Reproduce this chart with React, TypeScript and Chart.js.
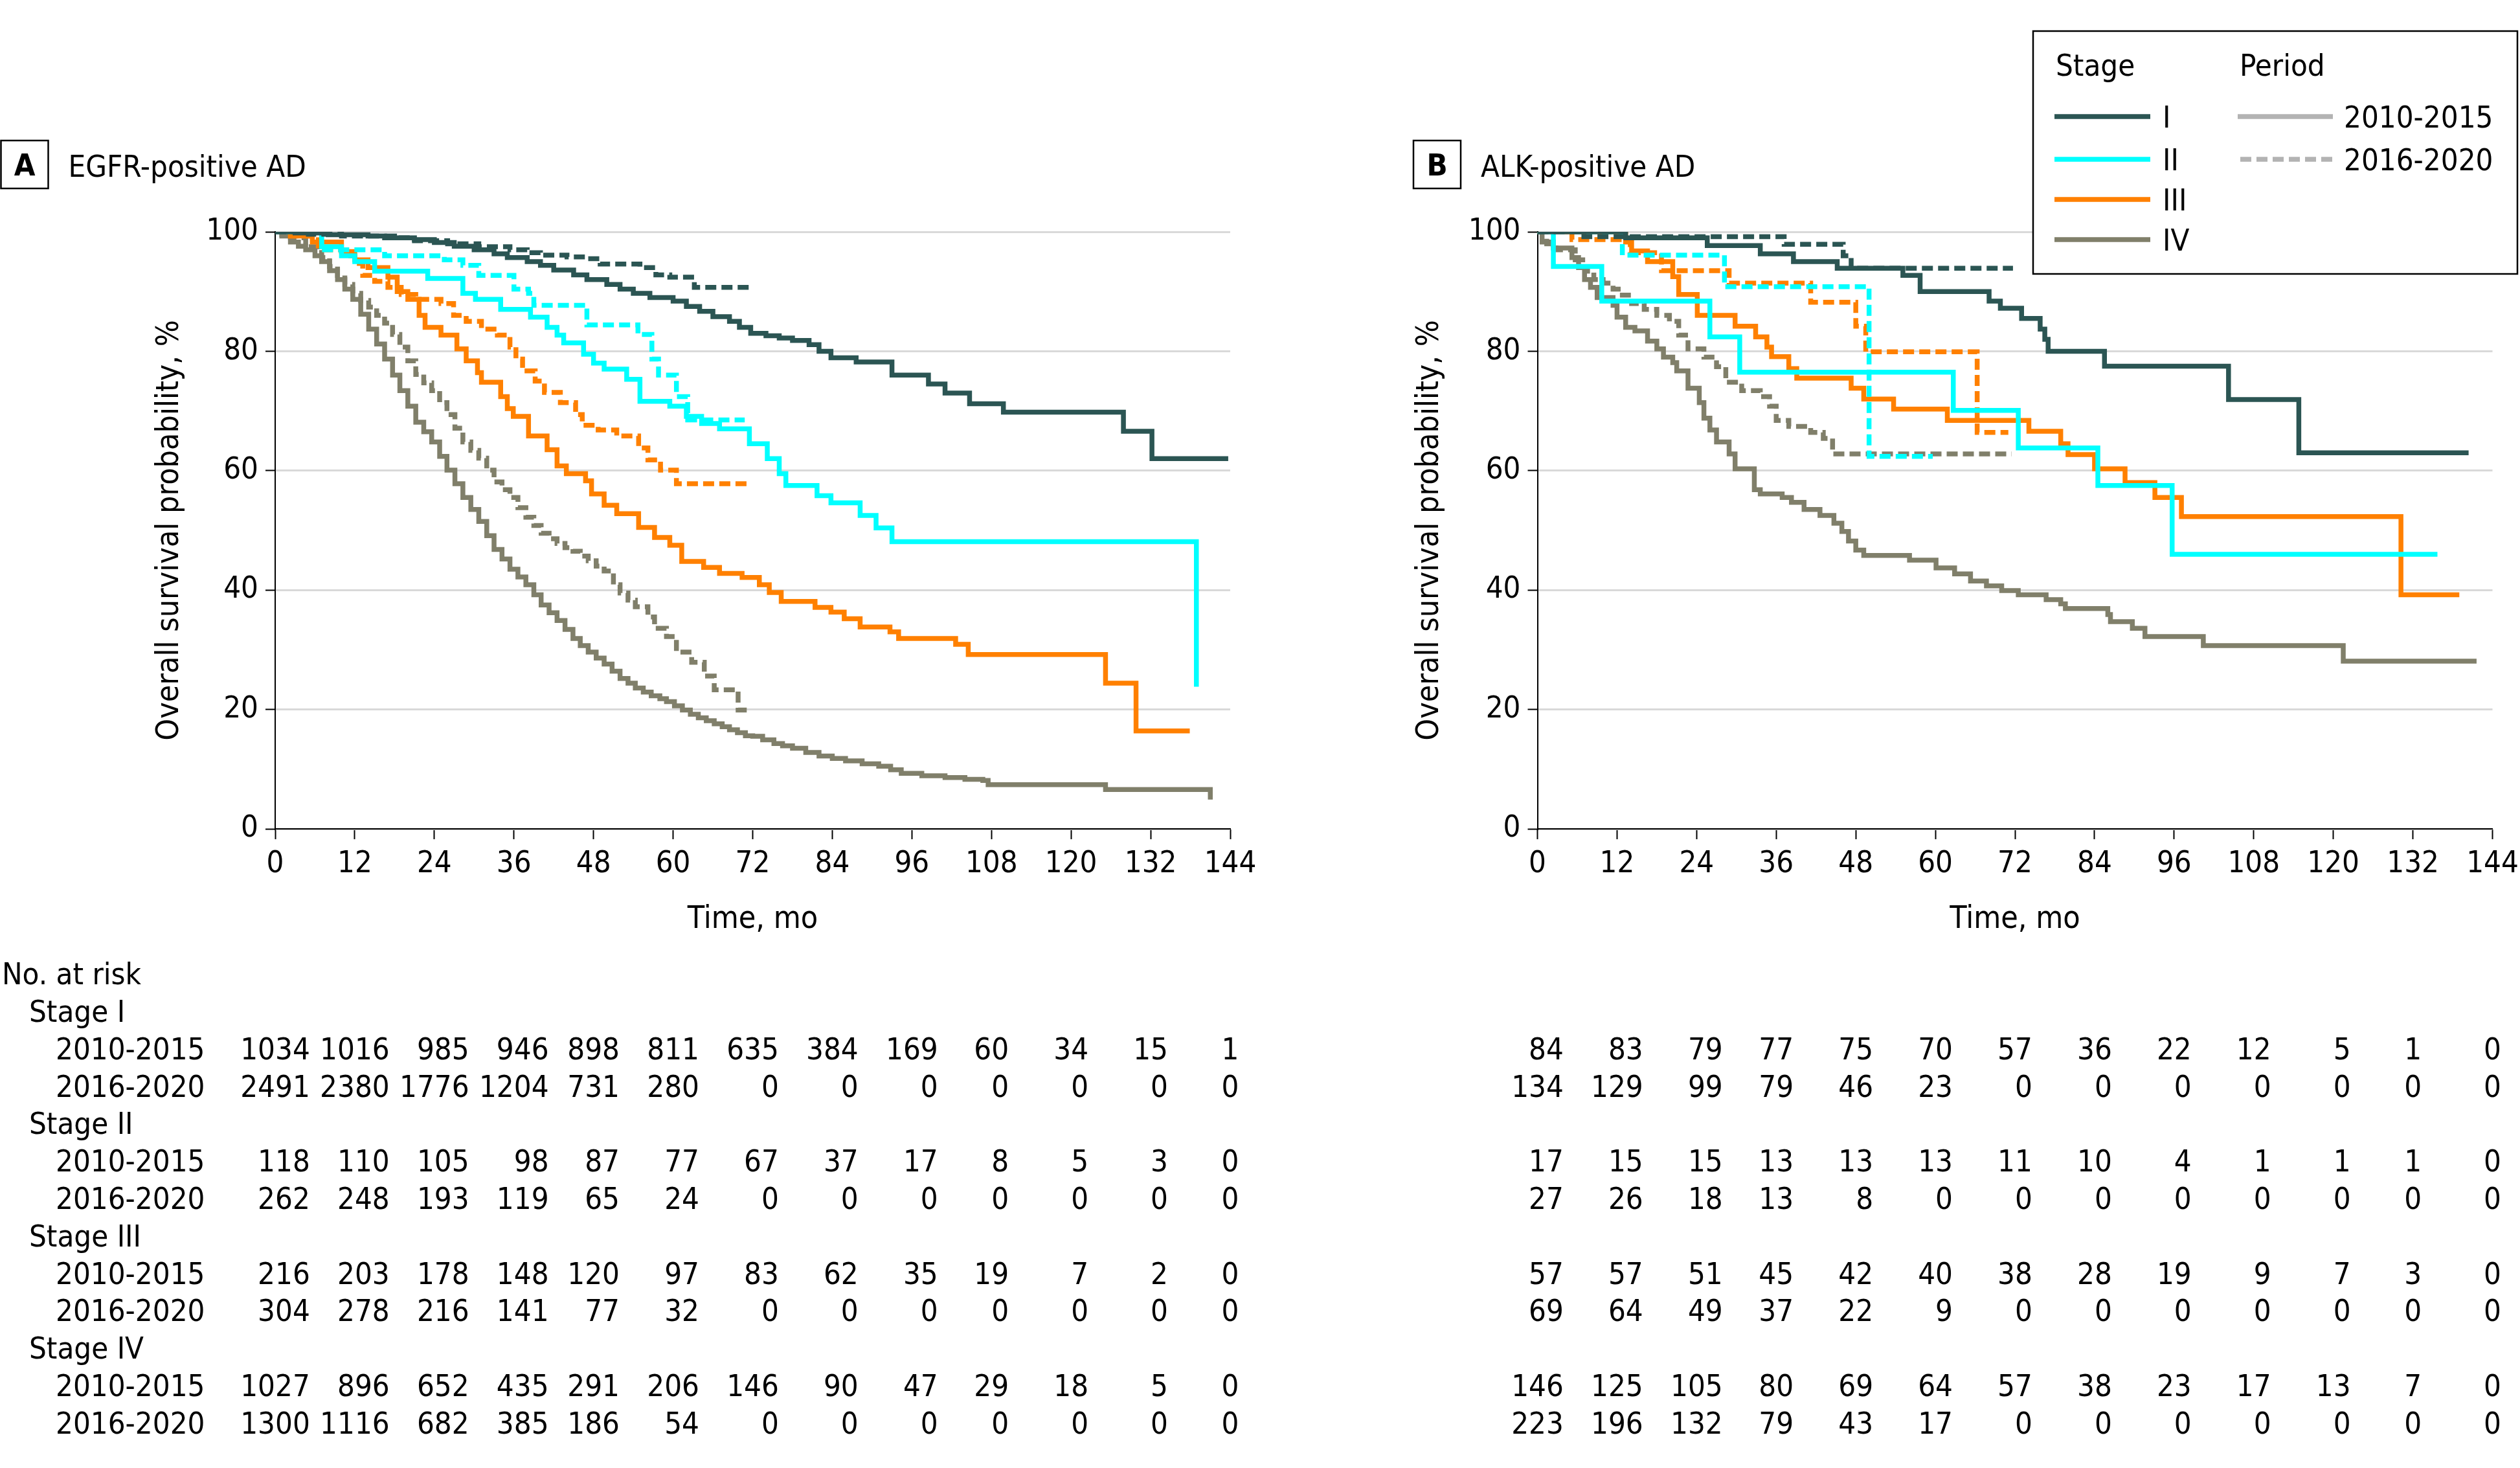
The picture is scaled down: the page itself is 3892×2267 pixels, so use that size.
import React, { useEffect, useRef } from "react";
import { Chart, registerables } from "chart.js";

Chart.register(...registerables);

const FONT = '"DejaVu Sans Condensed", "Liberation Sans Narrow", "Arial Narrow", sans-serif';

// ---------- data ----------
const MONTH_TICKS = [0, 12, 24, 36, 48, 60, 72, 84, 96, 108, 120, 132, 144];
const STAGES = ["I", "II", "III", "IV"];
const PERIODS = ["2010-2015", "2016-2020"];
const STAGE_COLORS = ["#2B5553", "#00FFFF", "#FF8000", "#807F6A"];
const PERIOD_COLOR = "#B3B3B3";
const Y_TITLE = "Overall survival probability, %";
const X_TITLE = "Time, mo";

type Pts = [number, number][];

// Panel A: EGFR-positive AD (month, survival %)
const A_I_2010: Pts = [[0,100],[3,99.8],[8,99.5],[14,99.3],[18,99],[21,98.7],[24,98.2],[27,97.6],[30,97],[33,96.3],[35,95.7],[38,95],[40,94.4],[42,93.6],[45,92.8],[47,92],[50,91.2],[52,90.4],[54,89.7],[56.5,89],[60,88.4],[62,87.5],[64,86.7],[66,85.8],[68.5,85],[70,84],[71.7,83],[74,82.6],[76,82.2],[78,81.8],[80.5,81.1],[82,80],[83.8,78.9],[87.6,78.2],[93,76],[98.5,74.5],[101,73],[104.7,71.2],[109.8,69.8],[127.9,66.6],[132.2,62],[143.7,62]];
const A_I_2016: Pts = [[0,100],[5,99.6],[10,99.3],[16.5,99],[21,98.5],[26,98],[30.7,97.5],[35.4,97],[38,96.5],[40,96.1],[44,95.8],[47,95.5],[49,94.6],[55,94],[57.4,92.8],[59.5,92.4],[63.2,90.7],[71.5,90.7]];
const A_II_2010: Pts = [[0,100],[7,97.5],[10,96],[12,95],[15,93.4],[23,92.2],[28.3,89.7],[30.2,88.7],[34,87],[38.5,85.7],[41,84],[42.5,82.7],[43.5,81.4],[46.5,79.5],[48,78],[49.6,77],[53,75.3],[55,71.6],[59.5,70.8],[62,69.1],[64.3,67.9],[67,67],[71.5,64.5],[74.2,62],[76,59.5],[77,57.5],[81.7,55.8],[83.8,54.6],[88.2,52.5],[90.6,50.4],[93,48.1],[138.9,23.8]];
const A_II_2016: Pts = [[0,100],[7,97],[16.5,96],[25.5,95.3],[28.3,94.4],[30.7,92.7],[36,90.4],[38.2,89.7],[39,87.7],[47,84.4],[54.7,82.8],[56.8,78.7],[57.8,76],[60.5,72.4],[62.2,68.5],[70.8,68.5]];
const A_III_2010: Pts = [[0,100],[2.3,99.3],[5.6,98.3],[10,96.7],[12,95.3],[14,94],[17,92.4],[18.4,90],[20,88.7],[21.7,86],[22.6,84],[25,82.7],[27.4,80.4],[28.8,78.4],[30.5,76.4],[31.1,74.8],[34,72.4],[35,70.4],[35.9,69.1],[38.2,65.8],[41,63.5],[42.5,60.8],[43.9,59.5],[46.8,58.3],[47.7,56.1],[49.6,54.2],[51.5,52.8],[54.8,50.5],[57.2,48.8],[59.5,47.5],[61.3,44.8],[64.6,43.8],[67,42.8],[70.4,42.1],[73,40.9],[74.5,39.6],[76.3,38.1],[81.4,37.1],[83.8,36.3],[85.8,35.2],[88.2,33.8],[92.7,33],[94,31.9],[102.6,30.9],[104.5,29.2],[125.2,24.4],[129.8,16.4],[137.9,16.4]];
const A_III_2016: Pts = [[0,100],[2.3,99.3],[6.5,97],[10.3,96],[12,94.7],[13.2,92.7],[15,91.7],[17,90.7],[19,89.5],[21.2,88.7],[25,88],[26.9,86],[28.8,85],[31.1,83.7],[33.5,82.7],[35.4,80.7],[36.3,78.7],[37.3,76.7],[39.2,75],[40.6,73.1],[43,71.4],[45.3,69.4],[46.3,67.6],[48.7,66.8],[51.5,65.8],[54.8,63.8],[56.2,61.8],[58.1,60.1],[60.5,57.8],[71.7,57.8]];
const A_IV_2010: Pts = [[0,100],[1,99.3],[2.3,98.3],[3.5,97.6],[4.6,97],[6,96],[7,95],[8.2,93.5],[9.4,92],[10.5,90.4],[11.7,88.7],[12.9,86.2],[14.1,83.7],[15.3,81.2],[16.5,78.7],[17.7,76],[18.8,73.4],[20,70.8],[21.2,68.1],[22.4,66.5],[23.6,64.8],[24.8,62.4],[25.9,60.1],[27.1,57.8],[28.3,55.5],[29.5,53.5],[30.7,51.5],[31.9,49.1],[33,46.8],[34.2,45.2],[35.4,43.5],[36.6,42.2],[37.8,40.9],[39,39.2],[40.1,37.5],[41.3,36.2],[42.5,34.9],[43.7,33.4],[44.9,31.9],[46,30.7],[47.2,29.6],[48.4,28.6],[49.6,27.6],[50.8,26.4],[52,25.2],[53.2,24.4],[54.3,23.6],[55.5,22.9],[56.7,22.3],[58,21.8],[59,21.3],[60.2,20.6],[61.4,19.9],[62.6,19.2],[63.8,18.6],[65,18.1],[66.2,17.6],[67.4,17.1],[68.5,16.6],[69.7,16.1],[70.9,15.6],[72,15.5],[73.5,14.9],[75.2,14.3],[76.5,13.9],[78,13.5],[80,12.8],[82,12.2],[84,11.8],[86,11.4],[88.5,10.9],[91,10.5],[92.8,9.9],[94.4,9.3],[97.5,8.9],[101,8.6],[104,8.3],[106.7,8.1],[107.5,7.4],[125.2,6.6],[141,4.9]];
const A_IV_2016: Pts = [[0,100],[1,99.5],[2.3,99],[4.6,97.5],[7,95.7],[8.2,94.2],[9.4,92.7],[10.5,91.2],[11.7,89.7],[12.9,88.5],[14.1,87.4],[15.3,86],[16.5,84.7],[17.7,82.8],[18.8,80.7],[20,78.4],[21.2,76.1],[22.4,74.7],[23.6,73.4],[24.8,71.4],[25.9,69.4],[27.1,67.1],[28.3,64.8],[29.5,63.4],[30.7,62.1],[31.9,60.1],[33,58.1],[34.2,56.8],[35.4,55.5],[36.6,53.8],[37.8,52.2],[39,50.8],[40.1,49.5],[41.3,48.6],[42.5,47.8],[43.7,47.1],[44.9,46.5],[46,45.7],[47.2,44.9],[48.4,44],[49.6,43.2],[51,40.9],[52,39.5],[53.2,38.3],[54.3,37.2],[56.2,35.5],[57.2,33.6],[59,32.2],[60.5,29.6],[62.8,27.9],[64.7,25.6],[66.2,23.3],[69.8,19.9],[71.1,19.9]];

// Panel B: ALK-positive AD
const B_I_2010: Pts = [[0,100],[13.3,99],[25.6,97.7],[33.6,96.3],[38.6,95],[45.2,93.9],[55.1,92.7],[57.7,90],[68.1,88.4],[69.8,87.2],[73,85.5],[75.8,83.7],[76.5,82],[77,80],[85.5,77.5],[104.2,71.9],[114.8,63],[140.4,63]];
const B_I_2016: Pts = [[0,100],[7,99.2],[37.2,97.9],[46.1,96],[47.3,93.9],[71.7,93.9]];
const B_II_2010: Pts = [[0,100],[2.4,94.2],[9.7,88.4],[26,82.4],[30.5,76.5],[62.7,70.1],[72.5,63.8],[84.5,57.5],[95.7,46],[135.7,46]];
const B_II_2016: Pts = [[0,100],[12.8,96.1],[28.2,90.8],[50,62.4],[59.6,62.4]];
const B_III_2010: Pts = [[0,100],[13.3,98.3],[14.2,96.8],[16.6,95],[20.4,92.5],[21.3,89.5],[24.1,86],[29.8,84.2],[32.9,82.4],[34.6,80.7],[35.3,79.1],[37.9,77.1],[39.1,75.5],[47.3,73.8],[49.2,72],[53.7,70.3],[61.8,68.4],[74.1,66.6],[78.9,64.5],[80,62.7],[84,60.3],[88.6,58],[93.1,55.5],[97.1,52.3],[130.2,39.2],[139,39.2]];
const B_III_2016: Pts = [[0,100],[5.2,98.7],[14,96.5],[18.7,93.5],[28.9,91.4],[41.2,88.2],[48,84.2],[49.5,79.9],[66.3,66.4],[71,66.4]];
const B_IV_2010: Pts = [[0,100],[0.7,98.3],[2.4,97.3],[5.2,95.7],[6.2,94],[7.1,92],[8,90.7],[9,89],[11.4,87.7],[12,85.7],[13.3,84],[14.7,83.4],[16.6,81.7],[18,80.4],[19,79],[20.4,78.1],[21,76.7],[22.7,73.8],[24.4,71.4],[25.1,68.8],[26,66.8],[27,64.8],[28.9,62.8],[29.8,60.3],[32.7,56.8],[33.6,56.1],[36.9,55.5],[38.3,54.7],[40.2,53.5],[42.6,52.5],[44.7,51.2],[45.9,49.8],[46.9,48.2],[48,46.7],[49.2,45.8],[56.1,45],[60.1,43.7],[62.9,42.7],[65.3,41.5],[67.7,40.7],[70,39.9],[72.5,39.2],[76.7,38.4],[78.9,37.7],[79.6,36.9],[86,35.9],[86.4,34.7],[89.7,33.6],[91.6,32.2],[100.4,30.7],[121.5,28.1],[141.6,28.1]];
const B_IV_2016: Pts = [[0,100],[1.4,98],[2.8,97],[5.7,95.3],[7.3,93.4],[8.5,92],[9.9,91.4],[11.4,90.4],[12.8,89.4],[14.2,88],[16.1,87],[18,86],[19.9,85],[21.3,82.7],[22.7,80.4],[25.1,79],[27,77.4],[28.4,74.8],[30.8,73.4],[33.6,72.4],[35,70.8],[36,68.4],[37.9,67.4],[41.2,66.4],[43.1,65.4],[44.5,62.8],[71.5,62.8]];

// Numbers at risk (columns = MONTH_TICKS)
const A_RISK_I_2010 = [1034, 1016, 985, 946, 898, 811, 635, 384, 169, 60, 34, 15, 1];
const A_RISK_I_2016 = [2491, 2380, 1776, 1204, 731, 280, 0, 0, 0, 0, 0, 0, 0];
const A_RISK_II_2010 = [118, 110, 105, 98, 87, 77, 67, 37, 17, 8, 5, 3, 0];
const A_RISK_II_2016 = [262, 248, 193, 119, 65, 24, 0, 0, 0, 0, 0, 0, 0];
const A_RISK_III_2010 = [216, 203, 178, 148, 120, 97, 83, 62, 35, 19, 7, 2, 0];
const A_RISK_III_2016 = [304, 278, 216, 141, 77, 32, 0, 0, 0, 0, 0, 0, 0];
const A_RISK_IV_2010 = [1027, 896, 652, 435, 291, 206, 146, 90, 47, 29, 18, 5, 0];
const A_RISK_IV_2016 = [1300, 1116, 682, 385, 186, 54, 0, 0, 0, 0, 0, 0, 0];

const B_RISK_I_2010 = [84, 83, 79, 77, 75, 70, 57, 36, 22, 12, 5, 1, 0];
const B_RISK_I_2016 = [134, 129, 99, 79, 46, 23, 0, 0, 0, 0, 0, 0, 0];
const B_RISK_II_2010 = [17, 15, 15, 13, 13, 13, 11, 10, 4, 1, 1, 1, 0];
const B_RISK_II_2016 = [27, 26, 18, 13, 8, 0, 0, 0, 0, 0, 0, 0, 0];
const B_RISK_III_2010 = [57, 57, 51, 45, 42, 40, 38, 28, 19, 9, 7, 3, 0];
const B_RISK_III_2016 = [69, 64, 49, 37, 22, 9, 0, 0, 0, 0, 0, 0, 0];
const B_RISK_IV_2010 = [146, 125, 105, 80, 69, 64, 57, 38, 23, 17, 13, 7, 0];
const B_RISK_IV_2016 = [223, 196, 132, 79, 43, 17, 0, 0, 0, 0, 0, 0, 0];

// ---------- layout ----------
const W = 3892;
const H = 2267;
const HALF = 1946;
const PLOT_TOP = 358;
const PLOT_BOTTOM = 1280;
const X_AXIS_H = 200;
const Y_AXIS_W_A = 425;
const Y_AXIS_W_B = 428.5;
const DASH = [17, 8];
const LINE_W = 7.5;
const FS = 47;

type PanelDef = {
  offsetX: number;
  letter: string;
  title: string;
  yAxisWidth: number;
  rightPad: number;
  curves: Pts[][];
  risk: number[][][];
  rowLabels: boolean;
  legend: boolean;
};

const PANEL_A: PanelDef = {
  offsetX: 0,
  letter: "A",
  title: "EGFR-positive AD",
  yAxisWidth: Y_AXIS_W_A,
  rightPad: 46,
  curves: [[A_I_2010, A_I_2016], [A_II_2010, A_II_2016], [A_III_2010, A_III_2016], [A_IV_2010, A_IV_2016]],
  risk: [[A_RISK_I_2010, A_RISK_I_2016], [A_RISK_II_2010, A_RISK_II_2016], [A_RISK_III_2010, A_RISK_III_2016], [A_RISK_IV_2010, A_RISK_IV_2016]],
  rowLabels: true,
  legend: false,
};

const PANEL_B: PanelDef = {
  offsetX: HALF,
  letter: "B",
  title: "ALK-positive AD",
  yAxisWidth: Y_AXIS_W_B,
  rightPad: 42.5,
  curves: [[B_I_2010, B_I_2016], [B_II_2010, B_II_2016], [B_III_2010, B_III_2016], [B_IV_2010, B_IV_2016]],
  risk: [[B_RISK_I_2010, B_RISK_I_2016], [B_RISK_II_2010, B_RISK_II_2016], [B_RISK_III_2010, B_RISK_III_2016], [B_RISK_IV_2010, B_RISK_IV_2016]],
  rowLabels: false,
  legend: true,
};

function rowBaseline(k: number) {
  return 1578 + 57.8 * k;
}

function makeDecor(p: PanelDef) {
  return {
    id: "decor" + p.letter,
    afterDraw(chart: any) {
      const ctx: CanvasRenderingContext2D = chart.ctx;
      const xs = chart.scales.x;
      const ox = p.offsetX;
      ctx.save();
      ctx.fillStyle = "#000";
      ctx.strokeStyle = "#000";

      // panel letter box
      const bx = (p.letter === "A" ? 1.5 : 2183) - ox;
      ctx.lineWidth = 2.5;
      ctx.strokeRect(bx, 217, 73, 74);
      ctx.font = `bold ${FS}px ${FONT}`;
      ctx.textAlign = "center";
      ctx.textBaseline = "alphabetic";
      ctx.fillText(p.letter, bx + 36.5, 271);
      ctx.font = `${FS}px ${FONT}`;
      ctx.textAlign = "left";
      ctx.fillText(p.title, bx + 104, 273);

      // numbers at risk
      ctx.font = `${FS}px ${FONT}`;
      const digitW = ctx.measureText("0").width;
      if (p.rowLabels) {
        ctx.textAlign = "left";
        ctx.fillText("No. at risk", 3, 1520);
        p.risk.forEach((_, si) => {
          ctx.fillText("Stage " + STAGES[si], 45, rowBaseline(si * 3));
          ctx.fillText(PERIODS[0], 86, rowBaseline(si * 3 + 1));
          ctx.fillText(PERIODS[1], 86, rowBaseline(si * 3 + 2));
        });
      }
      ctx.textAlign = "right";
      MONTH_TICKS.forEach((m, ci) => {
        let maxLen = 1;
        p.risk.forEach((pair) => pair.forEach((row) => { maxLen = Math.max(maxLen, String(row[ci]).length); }));
        const right = xs.getPixelForValue(m) + (maxLen * digitW) / 2;
        p.risk.forEach((pair, si) => {
          pair.forEach((row, pi) => {
            ctx.fillText(String(row[ci]), right, rowBaseline(si * 3 + 1 + pi));
          });
        });
      });

      // legend
      if (p.legend) {
        const L = 3140 - ox;
        const T = 48;
        ctx.fillStyle = "#fff";
        ctx.fillRect(L, T, 748, 375);
        ctx.lineWidth = 2.5;
        ctx.strokeStyle = "#000";
        ctx.strokeRect(L, T, 748, 375);
        ctx.fillStyle = "#000";
        ctx.textAlign = "left";
        ctx.fillText("Stage", 3175 - ox, 117);
        ctx.fillText("Period", 3459 - ox, 117);
        const ys = [180, 246, 308, 370];
        STAGES.forEach((s, i) => {
          ctx.strokeStyle = STAGE_COLORS[i];
          ctx.lineWidth = LINE_W;
          ctx.setLineDash([]);
          ctx.beginPath();
          ctx.moveTo(3173 - ox, ys[i]);
          ctx.lineTo(3321 - ox, ys[i]);
          ctx.stroke();
          ctx.fillText(s, 3340 - ox, ys[i] + 17);
        });
        PERIODS.forEach((per, i) => {
          ctx.strokeStyle = PERIOD_COLOR;
          ctx.lineWidth = LINE_W;
          ctx.setLineDash(i === 0 ? [] : DASH);
          ctx.beginPath();
          ctx.moveTo((i === 0 ? 3456 : 3460) - ox, ys[i]);
          ctx.lineTo(3603 - ox, ys[i]);
          ctx.stroke();
          ctx.fillText(per, 3620 - ox, ys[i] + 17);
        });
        ctx.setLineDash([]);
      }
      ctx.restore();
    },
  };
}

function makeConfig(p: PanelDef): any {
  const datasets: any[] = [];
  p.curves.forEach((pair, si) => {
    pair.forEach((pts, pi) => {
      datasets.push({
        label: `Stage ${STAGES[si]} ${PERIODS[pi]}`,
        data: pts.map(([x, y]) => ({ x, y })),
        borderColor: STAGE_COLORS[si],
        borderWidth: LINE_W,
        borderDash: pi === 0 ? [] : DASH,
        stepped: true,
        pointRadius: 0,
        fill: false,
        tension: 0,
      });
    });
  });
  const tickFont = { family: FONT, size: FS };
  const titleFont = { family: FONT, size: 48 };
  return {
    type: "line",
    data: { datasets },
    options: {
      responsive: false,
      animation: false,
      devicePixelRatio: 1,
      events: [],
      layout: { padding: { left: 0, top: PLOT_TOP, right: p.rightPad, bottom: H - PLOT_BOTTOM - X_AXIS_H } },
      plugins: { legend: { display: false }, tooltip: { enabled: false }, title: { display: false } },
      scales: {
        x: {
          type: "linear",
          min: 0,
          max: 144,
          ticks: { stepSize: 12, font: tickFont, color: "#000", padding: 11, maxRotation: 0, autoSkip: false },
          grid: { drawOnChartArea: false, drawTicks: true, tickLength: 16, tickColor: "#000", tickWidth: 2 },
          border: { display: true, color: "#000", width: 2 },
          title: { display: true, text: X_TITLE, font: titleFont, color: "#000", padding: { top: 0, bottom: 31 } },
          afterFit: (s: any) => {
            s.height = X_AXIS_H;
            s.paddingLeft = 0;
            s.paddingRight = 0;
          },
        },
        y: {
          type: "linear",
          min: 0,
          max: 100,
          ticks: { stepSize: 20, font: tickFont, color: "#000", padding: 11 },
          grid: { color: "#D9D9D9", lineWidth: 3, drawTicks: true, tickLength: 15, tickColor: "#000", tickWidth: 2 },
          border: { display: true, color: "#000", width: 2 },
          title: { display: true, text: Y_TITLE, font: titleFont, color: "#000", padding: { top: 263 - 29, bottom: 0 } },
          afterFit: (s: any) => {
            s.width = p.yAxisWidth;
            s.paddingTop = 0;
            s.paddingBottom = 0;
          },
        },
      },
    },
    plugins: [makeDecor(p)],
  };
}

export default function App() {
  const refA = useRef<HTMLCanvasElement>(null);
  const refB = useRef<HTMLCanvasElement>(null);
  useEffect(() => {
    const a = new Chart(refA.current as HTMLCanvasElement, makeConfig(PANEL_A));
    const b = new Chart(refB.current as HTMLCanvasElement, makeConfig(PANEL_B));
    return () => {
      a.destroy();
      b.destroy();
    };
  }, []);
  const cs: React.CSSProperties = { position: "absolute", top: 0, width: HALF, height: H };
  return (
    <div style={{ position: "absolute", left: 0, top: 0, width: W, height: H, background: "#fff", overflow: "hidden" }}>
      <canvas ref={refA} width={HALF} height={H} style={{ ...cs, left: 0 }} />
      <canvas ref={refB} width={HALF} height={H} style={{ ...cs, left: HALF }} />
    </div>
  );
}
